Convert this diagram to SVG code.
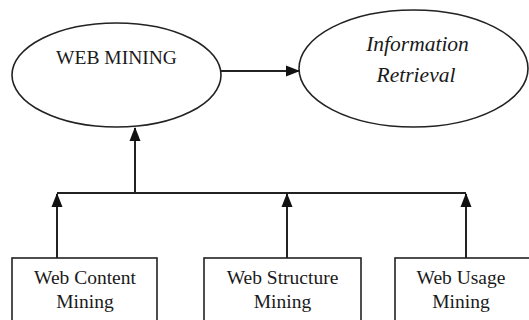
<svg xmlns="http://www.w3.org/2000/svg" width="529" height="320" viewBox="0 0 529 320">
<style>
.s{fill:#fff;stroke:#222;stroke-width:1.6}
.t{font-family:"Liberation Serif","Times New Roman",serif;font-size:19.5px;fill:#1a1a1a;text-anchor:middle}
.i{font-style:italic;font-size:21.5px}
.c{fill:none;stroke:#222;stroke-width:2}
</style>
<defs>
<marker id="b" markerWidth="14" markerHeight="14" refX="13" refY="7" orient="auto" markerUnits="userSpaceOnUse" viewBox="0 0 14 14">
<path d="M0,1.5 L14,7 L0,12.5 z" fill="#111"/>
</marker>
</defs>
<rect width="529" height="320" fill="#fff"/>
<g id="connectors">
<line class="c" x1="221" y1="71" x2="299" y2="71" marker-end="url(#b)"/>
<line class="c" x1="135" y1="193" x2="135" y2="128" marker-end="url(#b)"/>
<line class="c" x1="57" y1="193" x2="466" y2="193"/>
<line class="c" x1="57" y1="258" x2="57" y2="194" marker-end="url(#b)"/>
<line class="c" x1="287" y1="258" x2="287" y2="194" marker-end="url(#b)"/>
<line class="c" x1="466" y1="258" x2="466" y2="194" marker-end="url(#b)"/>
</g>
<g id="web-mining">
<ellipse class="s" cx="116.5" cy="75" rx="104.5" ry="52"/>
<text class="t" x="116.5" y="64" font-size="18.5">WEB MINING</text>
</g>
<g id="information-retrieval">
<ellipse class="s" cx="413.5" cy="68.5" rx="114.5" ry="58.5"/>
<text class="t i" x="417.5" y="51">Information</text>
<text class="t i" x="416" y="82">Retrieval</text>
</g>
<g id="web-content-mining">
<rect class="s" x="12" y="258" width="145" height="70"/>
<text class="t" x="85" y="284">Web Content</text>
<text class="t" x="85" y="308">Mining</text>
</g>
<g id="web-structure-mining">
<rect class="s" x="204" y="258" width="157" height="70"/>
<text class="t" x="282.5" y="284">Web Structure</text>
<text class="t" x="282.5" y="308">Mining</text>
</g>
<g id="web-usage-mining">
<rect class="s" x="395" y="258" width="140" height="70"/>
<text class="t" x="461" y="284">Web Usage</text>
<text class="t" x="461" y="308">Mining</text>
</g>
</svg>
